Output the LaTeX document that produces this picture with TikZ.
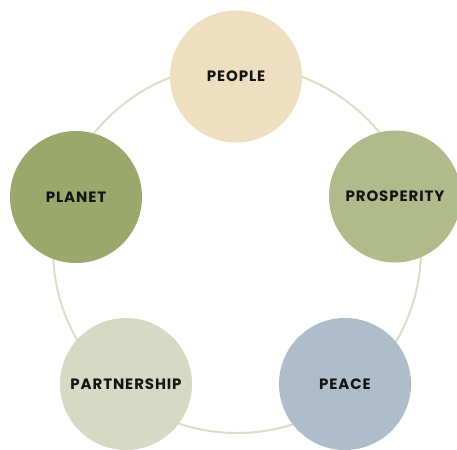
\documentclass[tikz,border=0pt]{standalone}
\usepackage{fontspec}
\setmainfont{Poppins}[LetterSpace=6]
\definecolor{ringc}{HTML}{DCDDC8}
\definecolor{peoplec}{HTML}{EDDFBF}
\definecolor{planetc}{HTML}{9BA86C}
\definecolor{prospc}{HTML}{B1BA8B}
\definecolor{partc}{HTML}{D6D9C3}
\definecolor{peacec}{HTML}{AEBDC9}
\definecolor{txtc}{HTML}{141414}
\tikzset{
  goal/.style={circle, minimum size=132pt, inner sep=0pt, text=txtc,
    font=\fontsize{15}{17}\selectfont\bfseries},
}
\begin{document}
\begin{tikzpicture}[x=1pt,y=-1pt]
\useasboundingbox (0,0) rectangle (457,449);
\clip (0,0) rectangle (457,449);
\draw[ringc, line width=2pt] (237,249) circle (184);
\node[goal, fill=peoplec] (people) at (236,76.5) {PEOPLE};
\node[goal, fill=planetc] (planet) at (76,197) {PLANET};
\node[goal, fill=prospc] (prosperity) at (395,196.5) {PROSPERITY};
\node[goal, fill=partc] (partnership) at (126,384) {PARTNERSHIP};
\node[goal, fill=peacec] (peace) at (345,384) {PEACE};
\end{tikzpicture}
\end{document}
